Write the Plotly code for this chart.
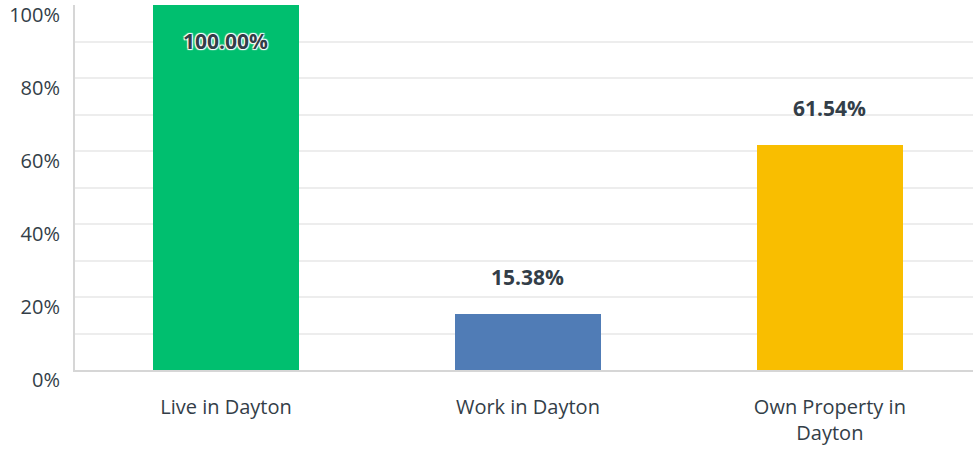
import plotly.graph_objects as go

categories = ["Live in Dayton", "Work in Dayton", "Own Property in<br>Dayton"]
values = [100.00, 15.38, 61.54]
colors = ["#00BF6F", "#507CB6", "#F9BE00"]
value_labels = ["100.00%", "15.38%", "61.54%"]
label_shifts = [-36, 37, 37]
y_ticks = [0, 20, 40, 60, 80, 100]
y_tick_labels = ["0%", "20%", "40%", "60%", "80%", "100%"]

fig = go.Figure()
fig.add_trace(go.Bar(
    x=categories, y=values, marker=dict(color=colors, line=dict(width=0)),
    width=0.483, hoverinfo="skip",
))

for c, v, t, s in zip(categories, values, value_labels, label_shifts):
    fig.add_annotation(
        x=c, y=v, text="<b>%s</b>" % t, showarrow=False, yshift=s,
        font=dict(family="Open Sans", size=21, color="#333E48",
                  shadow="1px 1px 1px #fff, -1px -1px 1px #fff, 1px -1px 1px #fff, -1px 1px 1px #fff" if v >= 100 else "none"),
    )

fig.update_layout(
    width=973, height=451,
    margin=dict(l=75, r=0, t=5, b=81),
    plot_bgcolor="white", paper_bgcolor="white",
    showlegend=False,
    bargap=0,
    font=dict(family="Open Sans", color="#333E48"),
)
fig.update_yaxes(
    range=[0, 100], tickvals=y_ticks, ticktext=y_tick_labels,
    tickfont=dict(size=20, color="#333E48"),
    showgrid=True, gridcolor="#EDEDED", gridwidth=2,
    minor=dict(dtick=10, showgrid=True, gridcolor="#EDEDED", gridwidth=2),
    showline=True, linecolor="#D6D6D6", linewidth=2,
    ticks="", ticklabelposition="outside", ticklabelshift=10, ticklabelstandoff=9,
    zeroline=False, fixedrange=True,
)
fig.update_xaxes(
    range=[-0.5, 2.474],
    tickfont=dict(size=20, color="#333E48"),
    showline=True, linecolor="#D6D6D6", linewidth=2,
    ticks="", ticklabelstandoff=18, fixedrange=True,
)

fig.write_html("out.html", config={"displayModeBar": False},
               post_script="document.body.style.margin='0px';")
